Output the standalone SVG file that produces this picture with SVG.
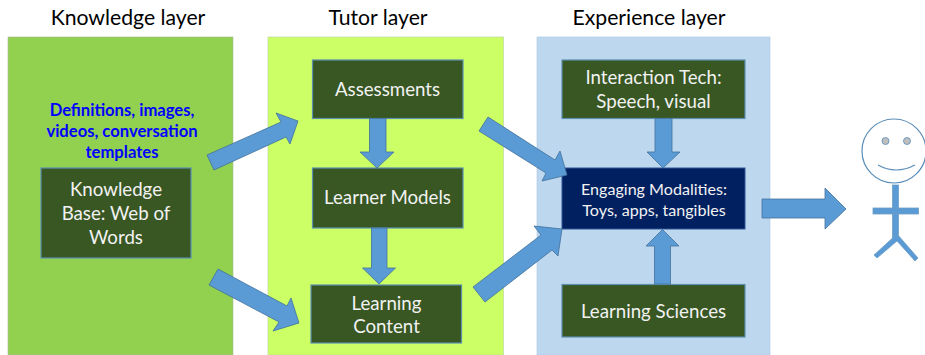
<svg xmlns="http://www.w3.org/2000/svg" width="925" height="355" viewBox="0 0 925 355">
<style>
text{font-family:Lato,"Open Sans",sans-serif;text-anchor:middle}
.h{font-size:21.2px;fill:#000}
.n{font-size:18.7px;fill:#f2f2f2}
.s{font-size:16.1px;fill:#f2f2f2}
.b{font-size:16.6px;font-weight:700;fill:#0000ff}
.box{fill:#385723;stroke:#5b8fb0;stroke-width:1.2}
.arr{fill:#5b9bd5;stroke:#41719c;stroke-width:.8}
.p{fill:#5b9bd5;stroke:#6f9fc4;stroke-width:.8}
</style>
<g id="panel-knowledge"><rect x="8" y="37" width="225" height="318" fill="#92d050" stroke="#a9b89a" stroke-width=".6"/><text class="h" x="128" y="25">Knowledge layer</text></g>
<g id="panel-tutor"><rect x="268" y="37" width="235.500" height="318" fill="#ccff66" stroke="#b8cfa0" stroke-width=".6"/><text class="h" x="378" y="25">Tutor layer</text></g>
<g id="panel-experience"><rect x="537" y="37" width="233" height="318" fill="#bdd7ee" stroke="#a9c8e4" stroke-width=".6"/><text class="h" x="649" y="25">Experience layer</text></g>
<g id="label-content"><text class="b" x="122" y="116">Definitions, images,</text><text class="b" x="122" y="137">videos, conversation</text><text class="b" x="122" y="158">templates</text></g>
<g id="node-kb"><rect class="box" x="41" y="168" width="150" height="90"/><text class="n" x="116" y="196">Knowledge</text><text class="n" x="116" y="220">Base: Web of</text><text class="n" x="116" y="244">Words</text></g>
<g id="node-assessments"><rect class="box" x="312.500" y="60" width="150.500" height="58.500"/><text class="n" x="387.500" y="96">Assessments</text></g>
<g id="node-learner"><rect class="box" x="312.500" y="168" width="150.500" height="60"/><text class="n" x="387.500" y="204">Learner Models</text></g>
<g id="node-content"><rect class="box" x="311" y="285" width="150.500" height="58"/><text class="n" x="386.500" y="310">Learning</text><text class="n" x="386.500" y="333">Content</text></g>
<g id="node-interaction"><rect class="box" x="562" y="60" width="183" height="58.500"/><text class="n" x="653.500" y="84">Interaction Tech:</text><text class="n" x="653.500" y="108">Speech, visual</text></g>
<g id="node-engaging"><rect x="562" y="168" width="183" height="61" fill="#002060" stroke="#2f5597" stroke-width="1"/><text class="s" x="654" y="195">Engaging Modalities:</text><text class="s" x="654" y="216">Toys, apps, tangibles</text></g>
<g id="node-sciences"><rect class="box" x="562" y="284.500" width="183" height="52.500"/><text class="n" x="653.500" y="318">Learning Sciences</text></g>
<g id="connectors">
<polygon class="arr" points="207,155 214,170 286,137 290,144 298,121 276,113 281,122"/>
<polygon class="arr" points="209,285 218,269 287,306 291,298 299,323 273,331 279,322"/>
<polygon class="arr" points="369.500,118.500 386,118.500 386,152 394,152 377,168 360,152 369.500,152"/>
<polygon class="arr" points="371.500,228 387,228 387,268 395.500,268 379,284 362.500,268 371.500,268"/>
<polygon class="arr" points="479,131 488,117 555,160 560,151 567,175 542,181 546,173"/>
<polygon class="arr" points="473,287 485,302 552,250 558,256 562,229 534,226 541,235"/>
<polygon class="arr" points="655,118.500 672,118.500 672,152 680,152 663,168 647,152 655,152"/>
<polygon class="arr" points="654.500,284 670.500,284 670.500,246 679,246 662.500,229.500 646,246 654.500,246"/>
<polygon class="arr" points="762,199 825,199 825,188 846,209 825,229 825,218 762,218"/>
</g>
<g id="person">
<circle cx="894" cy="151" r="32" fill="#fff" stroke="#5b8db8" stroke-width="1.2"/>
<circle cx="885.500" cy="141" r="3.500" fill="#bfbfbf" stroke="#5b8db8" stroke-width=".8"/>
<circle cx="907" cy="141" r="3.500" fill="#bfbfbf" stroke="#5b8db8" stroke-width=".8"/>
<path d="M878 165Q896 175 915 165" fill="none" stroke="#5b8db8" stroke-width="1.200"/>
<rect class="p" x="892.500" y="185" width="6" height="53"/>
<rect class="p" x="873" y="208" width="45.500" height="6"/>
<polygon class="p" points="897,234 918,258 915,261 897,241 877,258 874,255"/>
</g>
</svg>
